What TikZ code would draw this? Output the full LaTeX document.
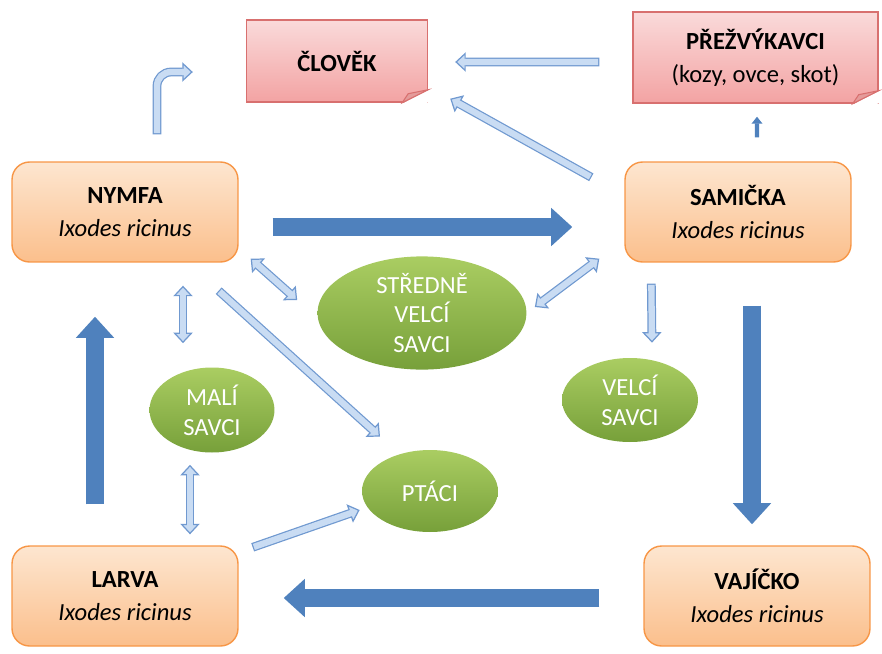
\documentclass[tikz,border=0pt]{standalone}
\usepackage{fontspec}
\setmainfont{Carlito}
\usetikzlibrary{positioning,calc,arrows.meta,shapes.geometric}

\definecolor{boxborder}{HTML}{F79646}
\definecolor{boxtop}{HTML}{FDE6D0}
\definecolor{boxbottom}{HTML}{FBBF8C}
\definecolor{noteborder}{HTML}{D8706F}
\definecolor{notetop}{HTML}{FADADA}
\definecolor{notebottom}{HTML}{F3A3A3}
\definecolor{greentop}{HTML}{AACD62}
\definecolor{greenbottom}{HTML}{77A03A}
\definecolor{flowblue}{HTML}{4F81BD}
\definecolor{lightborder}{HTML}{7099D0}
\definecolor{lightfill}{HTML}{C9DCF3}

\tikzset{
  lighttip/.tip={Triangle[length=6pt,width=11pt,line width=0.7pt,fill=lightfill]},
  stage/.style={rectangle, rounded corners=10pt, draw=boxborder, line width=0.8pt,
    top color=boxtop, bottom color=boxbottom, minimum width=4.52cm, minimum height=2cm,
    align=center, font=\fontsize{14}{19}\selectfont},
  host/.style={ellipse, draw=none, top color=greentop, bottom color=greenbottom,
    text=white, align=center, inner sep=0pt, font=\fontsize{14}{17}\selectfont},
  note/.style={rectangle, draw=noteborder, line width=0.8pt, top color=notetop,
    bottom color=notebottom, align=center, font=\fontsize{14}{19}\selectfont},
  fold/.style={fill=noteborder!70, draw=noteborder, line width=0.6pt},
  mainflow/.style={line width=10pt, draw=flowblue, -{Triangle[length=12pt,width=21pt]}},
  lightone/.style={line width=5pt, draw=lightborder, -lighttip,
    postaction={draw=lightfill, line width=3.6pt, arrows=-, shorten >=5pt, shorten <=0.7pt}},
  lighttwo/.style={line width=5pt, draw=lightborder, lighttip-lighttip,
    postaction={draw=lightfill, line width=3.6pt, arrows=-, shorten >=5pt, shorten <=5pt}}
}

\begin{document}
\begin{tikzpicture}[x=0.02cm, y=-0.02cm]
  \useasboundingbox (0,0) rectangle (882,653);

  \node[stage] (nymfa) at (125,212) {\textbf{NYMFA}\\\textit{Ixodes ricinus}};
  \node[stage] (samicka) at (738,212) {\textbf{SAMIČKA}\\\textit{Ixodes ricinus}};
  \node[stage] (larva) at (125,596) {\textbf{LARVA}\\\textit{Ixodes ricinus}};
  \node[stage] (vajicko) at (757,596) {\textbf{VAJÍČKO}\\\textit{Ixodes ricinus}};

  \node[note, minimum width=3.62cm, minimum height=1.64cm] (clovek) at (337,61) {\textbf{ČLOVĚK}};
  \node[note, minimum width=4.9cm, minimum height=1.82cm] (prez) at (755.5,57.5) {\textbf{PŘEŽVÝKAVCI}\\(kozy, ovce, skot)};
  \fill[white] (clovek.south east) -- ($(clovek.south east)+(-26,1)$) -- ($(clovek.south east)+(1,-13)$) -- cycle;
  \filldraw[fold] ($(clovek.south east)+(-26,0)$) -- ($(clovek.south east)+(0,-13)$) -- ($(clovek.south east)+(-20,-9)$) -- cycle;
  \fill[white] (prez.south east) -- ($(prez.south east)+(-26,1)$) -- ($(prez.south east)+(1,-13)$) -- cycle;
  \filldraw[fold] ($(prez.south east)+(-26,0)$) -- ($(prez.south east)+(0,-13)$) -- ($(prez.south east)+(-20,-9)$) -- cycle;

  \node[host, minimum width=4.18cm, minimum height=2.2cm] (stredne) at (422,313) {STŘEDNĚ\\VELCÍ\\SAVCI};
  \node[host, minimum width=2.5cm, minimum height=1.7cm] (mali) at (212,410) {MALÍ\\SAVCI};
  \node[host, minimum width=2.72cm, minimum height=1.64cm] (ptaci) at (430,491) {PTÁCI};
  \node[host, minimum width=2.72cm, minimum height=1.68cm] (velci) at (630,400) {VELCÍ\\SAVCI};

  \draw[mainflow] ($(nymfa.east)+(34,15)$) -- ($(samicka.west)+(-52,15)$);
  \draw[mainflow] ($(samicka.south)+(14,43)$) -- ($(vajicko.north)+(-5,-21)$);
  \draw[mainflow] ($(vajicko.west)+(-44,2)$) -- ($(larva.east)+(45,2)$);
  \draw[mainflow] ($(larva.north)+(-30,-41)$) -- ($(nymfa.south)+(-30,54)$);

  \draw[lightone, rounded corners=8pt] ($(nymfa.north)+(32,-27)$) |- ($(clovek.west)+(-53,11)$);
  \draw[lightone] ($(prez.west)+(-33,4.5)$) -- ($(clovek.east)+(27,1)$);
  \draw[lightone] ($(samicka.north west)+(-33,16)$) -- ($(clovek.south east)+(22,-4)$);
  \draw[line width=2.5pt, flowblue, -{Triangle[length=4pt,width=6pt]}] ($(samicka.north)+(19,-24)$) -- ($(prez.south)+(1.5,13)$);
  \draw[lighttwo] ($(nymfa.south east)+(12,-4)$) -- ($(stredne.west)+(-20,-13)$);
  \draw[lighttwo] ($(stredne.east)+(8,-6)$) -- ($(samicka.south west)+(-25,-4)$);
  \draw[lightone] ($(samicka.south west)+(27,21)$) -- ($(velci.north)+(22,-15)$);
  \draw[lighttwo] ($(nymfa.south)+(58,23)$) -- ($(mali.north)+(-29,-24)$);
  \draw[lighttwo] ($(mali.south)+(-22,12)$) -- ($(larva.north)+(65,-11)$);
  \draw[lightone] ($(nymfa.south east)+(-20,28)$) -- ($(ptaci.north)+(-50,-13)$);
  \draw[lightone] ($(larva.north east)+(14,2)$) -- ($(ptaci.west)+(-2,19)$);
\end{tikzpicture}
\end{document}
